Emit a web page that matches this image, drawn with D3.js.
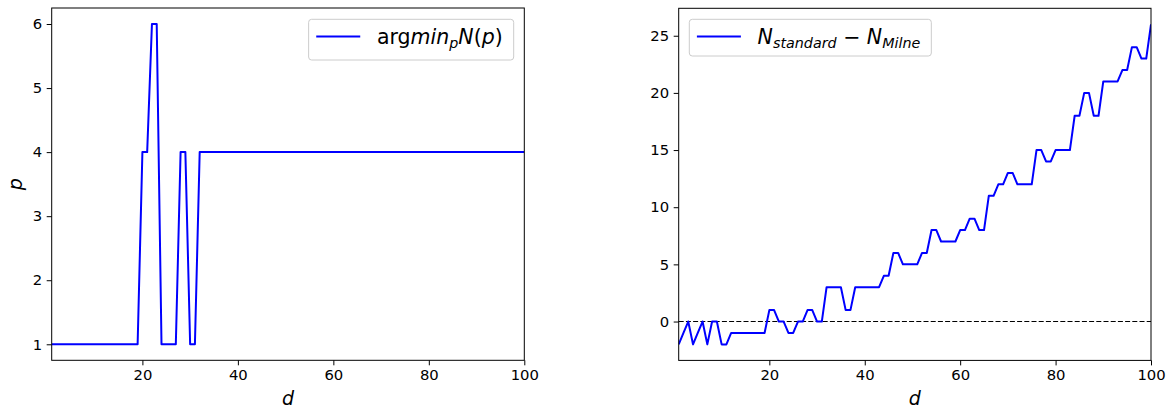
<!DOCTYPE html>
<html>
<head>
<meta charset="utf-8">
<script src="https://cdn.jsdelivr.net/npm/d3@7"></script>
<style>
  body { margin: 0; background: #fff; }
  svg { display: block; font-family: 'DejaVu Sans', sans-serif; }
  .eje text { font-size: 14.8px; fill: #000; font-family: 'DejaVu Sans', sans-serif; }
  .eje line { stroke: #000; stroke-width: 1px; }
  .eje path { display: none; }
  .marco { fill: none; stroke: #000; stroke-width: 1px; }
  .leyenda-caja { fill: #fff; fill-opacity: 0.8; stroke: #ccc; stroke-width: 1px; }
  .leyenda-texto { font-size: 20.5px; fill: #000; }
  .etiqueta { font-size: 19px; font-style: italic; fill: #000; }
</style>
</head>
<body>
<div id="graf"></div>
<script>
// I. Datos
dValores = [
  1, 2, 3, 4, 5, 6, 7, 8, 9, 10, 11, 12, 13, 14, 15, 16, 17, 18, 19, 20,
  21, 22, 23, 24, 25, 26, 27, 28, 29, 30, 31, 32, 33, 34, 35, 36, 37, 38, 39, 40,
  41, 42, 43, 44, 45, 46, 47, 48, 49, 50, 51, 52, 53, 54, 55, 56, 57, 58, 59, 60,
  61, 62, 63, 64, 65, 66, 67, 68, 69, 70, 71, 72, 73, 74, 75, 76, 77, 78, 79, 80,
  81, 82, 83, 84, 85, 86, 87, 88, 89, 90, 91, 92, 93, 94, 95, 96, 97, 98, 99, 100
]

// argmin_p N(p)
pOptimo = [
  1, 1, 1, 1, 1, 1, 1, 1, 1, 1, 1, 1, 1, 1, 1, 1, 1, 1, 1, 4,
  4, 6, 6, 1, 1, 1, 1, 4, 4, 1, 1, 4, 4, 4, 4, 4, 4, 4, 4, 4,
  4, 4, 4, 4, 4, 4, 4, 4, 4, 4, 4, 4, 4, 4, 4, 4, 4, 4, 4, 4,
  4, 4, 4, 4, 4, 4, 4, 4, 4, 4, 4, 4, 4, 4, 4, 4, 4, 4, 4, 4,
  4, 4, 4, 4, 4, 4, 4, 4, 4, 4, 4, 4, 4, 4, 4, 4, 4, 4, 4, 4
]

// N_standard - N_Milne
diferencia = [
  -2, -1, 0, -2, -1, 0, -2, 0, 0, -2, -2, -1, -1, -1, -1, -1, -1, -1, -1, 1,
  1, 0, 0, -1, -1, 0, 0, 1, 1, 0, 0, 3, 3, 3, 3, 1, 1, 3, 3, 3,
  3, 3, 3, 4, 4, 6, 6, 5, 5, 5, 5, 6, 6, 8, 8, 7, 7, 7, 7, 8,
  8, 9, 9, 8, 8, 11, 11, 12, 12, 13, 13, 12, 12, 12, 12, 15, 15, 14, 14, 15,
  15, 15, 15, 18, 18, 20, 20, 18, 18, 21, 21, 21, 21, 22, 22, 24, 24, 23, 23, 26
]

ticksX = [20, 40, 60, 80, 100]
ticksIzq = [1, 2, 3, 4, 5, 6]
ticksDer = [0, 5, 10, 15, 20, 25]

// II. Configuración
ancho_total = 1171
alto_total = 410

svg = d3.select('#graf')
        .append('svg')
        .attr('width', ancho_total)
        .attr('height', alto_total)

function panel(cfg) {
  x = d3.scaleLinear()
        .domain([1, 100])
        .range([cfg.left, cfg.right])
  y = d3.scaleLinear()
        .domain(cfg.dominioY)
        .range([cfg.bottom, cfg.top])

  g = svg.append('g')

  // Ejes
  g.append('g')
    .attr('class', 'eje')
    .attr('transform', `translate(0, ${ cfg.bottom })`)
    .call(d3.axisBottom(x).tickValues(ticksX).tickFormat(d3.format('d'))
            .tickSize(5).tickPadding(4.5).tickSizeOuter(0))

  g.append('g')
    .attr('class', 'eje')
    .attr('transform', `translate(${ cfg.left }, 0)`)
    .call(d3.axisLeft(y).tickValues(cfg.ticksY).tickFormat(d3.format('d'))
            .tickSize(5).tickPadding(4.5).tickSizeOuter(0))

  // Línea punteada en cero
  if (cfg.ceroPunteado) {
    g.append('line')
      .attr('x1', cfg.left).attr('x2', cfg.right)
      .attr('y1', y(0)).attr('y2', y(0))
      .attr('stroke', '#000')
      .attr('stroke-width', 1.1)
      .attr('stroke-dasharray', '5,2.2')
  }

  // Serie
  linea = d3.line()
            .x((d, i) => x(dValores[i]))
            .y(d => y(d))

  g.append('clipPath')
    .attr('id', cfg.id)
    .append('rect')
      .attr('x', cfg.left).attr('y', cfg.top)
      .attr('width', cfg.right - cfg.left).attr('height', cfg.bottom - cfg.top)

  g.append('path')
    .datum(cfg.serie)
    .attr('clip-path', `url(#${ cfg.id })`)
    .attr('fill', 'none')
    .attr('stroke', '#0000ff')
    .attr('stroke-width', 2)
    .attr('stroke-linejoin', 'round')
    .attr('d', linea)

  // Marco
  g.append('rect')
    .attr('class', 'marco')
    .attr('x', cfg.left).attr('y', cfg.top)
    .attr('width', cfg.right - cfg.left)
    .attr('height', cfg.bottom - cfg.top)

  // Etiquetas de los ejes
  g.append('text')
    .attr('class', 'etiqueta')
    .attr('x', (cfg.left + cfg.right) / 2)
    .attr('y', 405)
    .attr('text-anchor', 'middle')
    .text('d')

  if (cfg.etiquetaY) {
    g.append('text')
      .attr('class', 'etiqueta')
      .attr('transform', `translate(22, ${ (cfg.top + cfg.bottom) / 2 }) rotate(-90)`)
      .attr('text-anchor', 'middle')
      .text(cfg.etiquetaY)
  }

  // Leyenda
  ley = g.append('g')
  caja = ley.append('rect')
            .attr('class', 'leyenda-caja')
            .attr('rx', 3).attr('ry', 3)
  muestra = ley.append('line')
              .attr('stroke', '#0000ff')
              .attr('stroke-width', 2)
  texto = ley.append('text')
              .attr('class', 'leyenda-texto')
              .attr('y', 44)
  cfg.partes.forEach(p => {
    t = texto.append('tspan').text(p.t)
    if (p.i) t.attr('font-style', 'italic')
    if (p.dy) t.attr('dy', p.dy)
    if (p.sub) t.style('font-size', '14.3px')
  })
  anchoTexto = texto.node().getComputedTextLength()

  if (cfg.leyendaDerecha) {
    cajaDer = cfg.right - 11
    inicioTexto = cajaDer - 10.6 - anchoTexto
  } else {
    inicioTexto = cfg.left + 11.3 + 7.6 + 44 + 16
  }
  texto.attr('x', inicioTexto)
  muestra.attr('x1', inicioTexto - 60.7).attr('x2', inicioTexto - 16.7)
         .attr('y1', 36.5).attr('y2', 36.5)
  caja.attr('x', inicioTexto - 68.3)
      .attr('y', 19.3)
      .attr('width', anchoTexto + 68.3 + 11)
      .attr('height', cfg.altoLeyenda)
}

// III. Paneles
panel({
  id: 'clipIzq',
  left: 51.7, right: 524.3, top: 8, bottom: 360.3,
  dominioY: [0.75, 6.25],
  ticksY: ticksIzq,
  serie: pOptimo,
  etiquetaY: 'p',
  leyendaDerecha: true,
  altoLeyenda: 40.7,
  partes: [
    { t: 'arg' },
    { t: 'min', i: true },
    { t: 'p', i: true, sub: true, dy: 3.5 },
    { t: 'N', i: true, dy: -3.5 },
    { t: '(' },
    { t: 'p', i: true },
    { t: ')' }
  ]
})

panel({
  id: 'clipDer',
  left: 678.7, right: 1151, top: 8.3, bottom: 360.4,
  dominioY: [-3.4, 27.4],
  ticksY: ticksDer,
  serie: diferencia,
  ceroPunteado: true,
  leyendaDerecha: false,
  altoLeyenda: 36.7,
  partes: [
    { t: 'N', i: true },
    { t: 'standard', i: true, sub: true, dy: 3.5 },
    { t: ' − ', dy: -3.5 },
    { t: 'N', i: true },
    { t: 'Milne', i: true, sub: true, dy: 3.5 }
  ]
})
</script>
</body>
</html>
